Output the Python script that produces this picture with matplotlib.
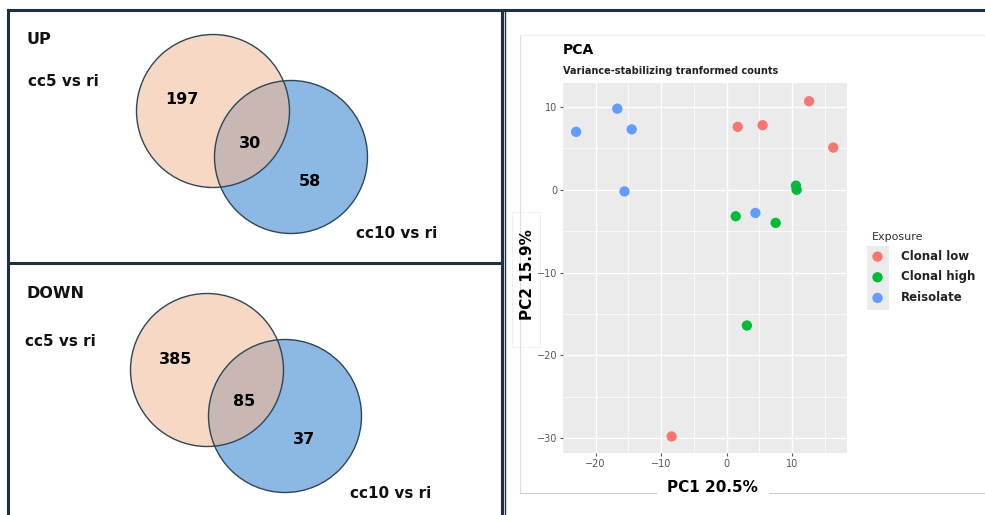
import matplotlib
matplotlib.use("Agg")
import matplotlib.pyplot as plt
from matplotlib.patches import Circle, Rectangle

# venn counts (only A, both, only B)
venn_titles = ["UP", "DOWN"]
venn_counts = [[197, 30, 58], [385, 85, 37]]
set_a = "cc5 vs ri"
set_b = "cc10 vs ri"

# pca scores
groups = ["Clonal low", "Clonal high", "Reisolate"]
pc1 = {
    "Clonal low": [1.7, 5.5, 12.6, 16.3, -8.4],
    "Clonal high": [10.6, 10.7, 1.4, 7.5, 3.1],
    "Reisolate": [-23.0, -16.7, -14.5, -15.6, 4.4],
}
pc2 = {
    "Clonal low": [7.6, 7.8, 10.7, 5.1, -29.8],
    "Clonal high": [0.5, 0.0, -3.2, -4.0, -16.4],
    "Reisolate": [7.0, 9.8, 7.3, -0.2, -2.8],
}
colours = {"Clonal low": "#F8766D", "Clonal high": "#00BA38", "Reisolate": "#619CFF"}

W, H = 985, 515
fig = plt.figure(figsize=(W / 100, H / 100), dpi=100)
bg = fig.add_axes([0, 0, 1, 1])
bg.set_xlim(0, W)
bg.set_ylim(H, 0)
bg.axis("off")

dark = "#1d3140"
# panel borders
bg.plot([8, 8], [10, H], color=dark, lw=2.2)
bg.plot([8, 985], [10, 10], color=dark, lw=2.2)
bg.plot([502, 502], [10, H], color=dark, lw=2.2)
bg.plot([8, 502], [263, 263], color=dark, lw=2.2)
bg.plot([505, 505], [10, H], color=dark, lw=1.0)

# light frame around the pca screenshot
bg.plot([520, 520], [35, 493], color="#dddddd", lw=0.8)
bg.plot([520, 985], [35, 35], color="#eeeeee", lw=0.8)
bg.plot([520, 656], [493, 493], color="#cccccc", lw=0.8)
bg.plot([769, 985], [493, 493], color="#cccccc", lw=0.8)
bg.add_patch(Rectangle((512, 212), 28, 135, facecolor="white", edgecolor="#eeeeee", lw=0.6, zorder=1))

fnt = "DejaVu Sans"
offsets = [0, 259]
shift = [0, -6]
for i in range(2):
    oy = offsets[i]
    ox = shift[i]
    ca = (213 + ox, 111 + oy)
    cb = (291 + ox, 157 + oy)
    r = 76.5
    bg.add_patch(Circle(ca, r, facecolor="#f7d8c4", edgecolor="none", zorder=2))
    bg.add_patch(Circle(cb, r, facecolor="#8cb9e4", edgecolor="none", zorder=2))
    # overlap
    clip = Circle(ca, r, transform=bg.transData)
    ov = Circle(cb, r, facecolor="#c9b7b3", edgecolor="none", zorder=3)
    bg.add_patch(ov)
    ov.set_clip_path(clip)
    bg.add_patch(Circle(ca, r, facecolor="none", edgecolor="#2e4657", lw=1.0, zorder=4))
    bg.add_patch(Circle(cb, r, facecolor="none", edgecolor="#2e4657", lw=1.0, zorder=4))

    n = venn_counts[i]
    bg.text(26, 40 + oy - (6 if i else 0), venn_titles[i], fontsize=11.5, fontweight="bold",
            family=fnt, va="center", ha="left", color="#111111")
    bg.text(28 - (3 if i else 0), 82 + oy, set_a, fontsize=11, fontweight="bold",
            family=fnt, va="center", ha="left", color="#111111")
    bg.text(356 + ox, 234 + oy, set_b, fontsize=11, fontweight="bold",
            family=fnt, va="center", ha="left", color="#111111")
    bg.text(182 + ox, 100 + oy, str(n[0]), fontsize=11.5, fontweight="bold",
            family=fnt, va="center", ha="center", zorder=5)
    bg.text(250 + ox, 143 + oy, str(n[1]), fontsize=11.5, fontweight="bold",
            family=fnt, va="center", ha="center", zorder=5)
    bg.text(310 + ox, 181 + oy, str(n[2]), fontsize=11.5, fontweight="bold",
            family=fnt, va="center", ha="center", zorder=5)

# pca plot
x0, x1, y0, y1 = 563, 847, 83, 453
ax = fig.add_axes([x0 / W, 1 - y1 / H, (x1 - x0) / W, (y1 - y0) / H])
ax.set_facecolor("#ebebeb")
for g in groups:
    ax.scatter(pc1[g], pc2[g], s=55, color=colours[g], edgecolors="none", zorder=3, label=g)
ax.set_xlim(-25.0, 18.4)
ax.set_ylim(-31.8, 12.9)
ax.set_xticks([-20, -10, 0, 10])
ax.set_yticks([10, 0, -10, -20, -30])
ax.set_xticks([-15, -5, 5, 15], minor=True)
ax.set_yticks([5, -5, -15, -25], minor=True)
ax.grid(which="major", color="white", lw=1.0)
ax.grid(which="minor", color="white", lw=0.5)
ax.set_axisbelow(True)
for s in ax.spines.values():
    s.set_visible(False)
ax.tick_params(which="major", length=2.5, color="#555555", labelsize=7, labelcolor="#555555", pad=1.5)
ax.tick_params(which="minor", length=0)

bg.text(x0, 50, "PCA", fontsize=10, fontweight="bold", family=fnt, va="center", ha="left")
bg.text(x0, 71, "Variance-stabilizing tranformed counts", fontsize=7, fontweight="bold",
        family=fnt, va="center", ha="left", color="#222222")
bg.text(712, 487, "PC1 20.5%", fontsize=11, fontweight="bold", family=fnt, va="center", ha="center")
bg.text(527, 275, "PC2 15.9%", fontsize=11, fontweight="bold", family=fnt, va="center",
        ha="center", rotation=90, zorder=5)

# legend
leg = ax.legend(title="Exposure", loc="upper left", bbox_to_anchor=(1.07, 0.61),
                frameon=False, fontsize=8.5, title_fontsize=8, handletextpad=1.5,
                handlelength=1.0, borderaxespad=0, labelspacing=0.65, markerscale=1.0)
leg._legend_box.align = "left"
for t in leg.get_texts():
    t.set_fontweight("bold")
    t.set_color("#222222")
leg.get_title().set_color("#3a2f2a")
bg.add_patch(Rectangle((867, 246), 22, 64, facecolor="#ebebeb", edgecolor="none", zorder=0))

fig.savefig("out.png", dpi=100)
